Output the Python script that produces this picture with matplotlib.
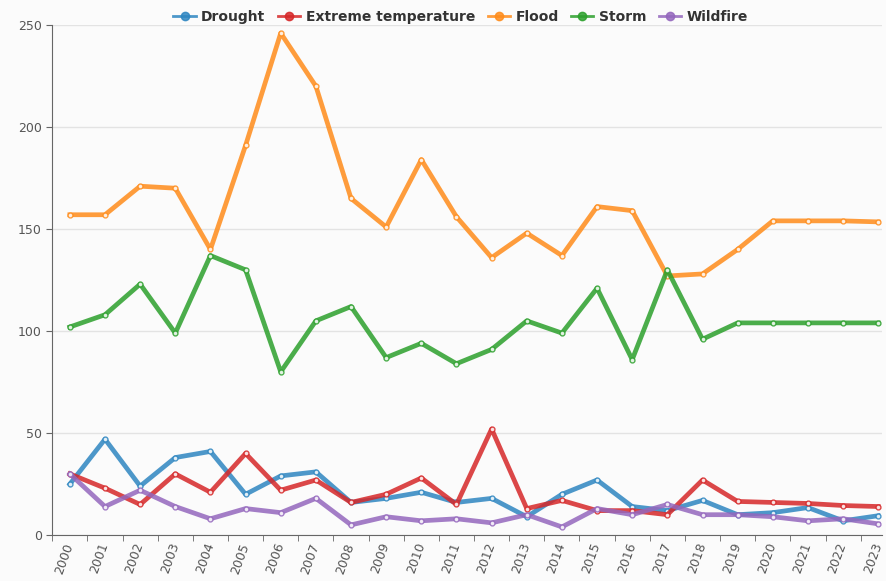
import matplotlib.pyplot as plt
import numpy as np

years = [str(y) for y in range(2000, 2024)]
drought = [25, 47, 24, 38, 41, 20, 29, 31, 16, 18, 21, 16, 18, 9, 20, 27, 14, 12, 17, 10, 11, 13.5, 7, 9.5]
extreme_temp = [30, 23, 15, 30, 21, 40, 22, 27, 16, 20, 28, 15, 52, 13, 17, 12, 12, 10, 27, 16.5, 16, 15.5, 14.5, 14]
flood = [157, 157, 171, 170, 140, 191, 246, 220, 165, 151, 184, 156, 136, 148, 137, 161, 159, 127, 128, 140, 154, 154, 154, 153.5]
storm = [102, 108, 123, 99, 137, 130, 80, 105, 112, 87, 94, 84, 91, 105, 99, 121, 86, 130, 96, 104, 104, 104, 104, 104]
wildfire = [30, 14, 22, 14, 8, 13, 11, 18, 5, 9, 7, 8, 6, 10, 4, 13, 10, 15, 10, 10, 9, 7, 8, 5.5]

series = [
    ("Drought", drought, "#2e86c1"),
    ("Extreme temperature", extreme_temp, "#d62728"),
    ("Flood", flood, "#ff8c1a"),
    ("Storm", storm, "#2ca02c"),
    ("Wildfire", wildfire, "#9467bd"),
]

fig = plt.figure(figsize=(8.86, 5.81), dpi=100)
fig.patch.set_facecolor("#fbfbfb")
ax = fig.add_axes([0.059, 0.079, 0.937, 0.878])
ax.set_facecolor("#fbfbfb")

x = np.arange(len(years))
for name, vals, col in series:
    ax.plot(x, vals, color=col, lw=3.4, alpha=0.85, marker="o", ms=3.5,
            mfc="white", mec=col, mew=1.0, label=name, solid_joinstyle="round")

ax.set_ylim(0, 250)
ax.set_xlim(-0.5, 23.12)
ax.set_yticks([0, 50, 100, 150, 200, 250])
ax.yaxis.grid(True, color="#e3e3e3", lw=1)
ax.set_axisbelow(True)

ax.set_xticks(x)
ax.set_xticklabels(years, rotation=70, ha="right", va="center", rotation_mode="anchor",
                   fontsize=9, color="#555555")
ax.set_xticks(np.arange(-0.5, 23.5, 1), minor=True)
ax.tick_params(axis="x", which="major", length=0, pad=6)
ax.tick_params(axis="x", which="minor", length=4, color="#666666")
ax.tick_params(axis="y", length=4, color="#666666", labelsize=9, labelcolor="#555555")

for s in ["top", "right"]:
    ax.spines[s].set_visible(False)
for s in ["left", "bottom"]:
    ax.spines[s].set_color("#666666")

leg = fig.legend(loc="upper center", ncol=5, bbox_to_anchor=(0.52, 1.005), frameon=False,
                 prop={"weight": "bold", "size": 10}, handlelength=1.6, columnspacing=0.9,
                 handletextpad=0.4)
for t in leg.get_texts():
    t.set_color("#333333")
for h in leg.legend_handles:
    h.set_markerfacecolor(h.get_color())
    h.set_markersize(6)
    h.set_linewidth(2)

fig.savefig("out.png", dpi=100, facecolor=fig.get_facecolor())
